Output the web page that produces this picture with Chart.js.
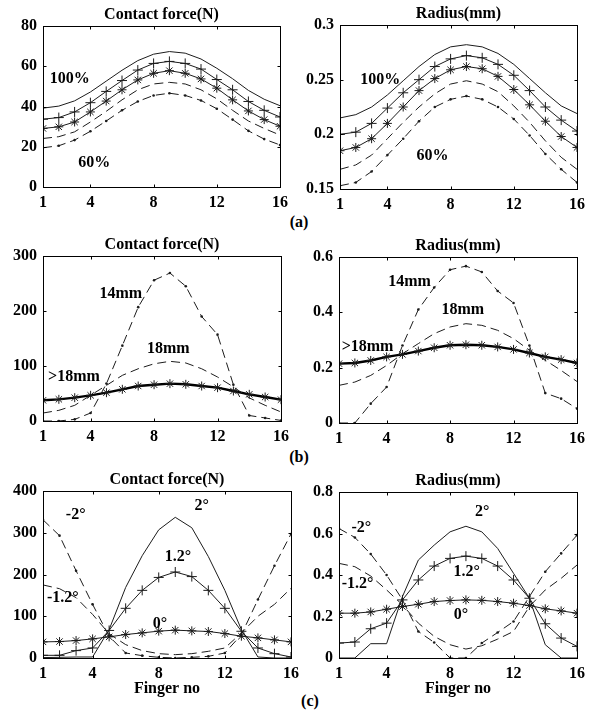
<!DOCTYPE html>
<html>
<head>
<meta charset="utf-8">
<script src="https://cdn.jsdelivr.net/npm/chart.js@4.4.1/dist/chart.umd.min.js"></script>
<style>
  body { margin: 0; background: #fff; }
  #fig { position: relative; width: 591px; height: 712px; overflow: hidden;
         font-family: "Liberation Serif", "Times New Roman", serif; font-weight: bold; }
  #fig canvas { position: absolute; }
  .tag { position: absolute; font-size: 16px; transform: translate(-50%, -50%); }
</style>
</head>
<body>
<div id="fig">
  <div class="tag" style="left:299px;top:222px">(a)</div>
  <div class="tag" style="left:299px;top:457px">(b)</div>
  <div class="tag" style="left:310px;top:701px">(c)</div>
</div>
<script>
const FINGERS = [1, 2, 3, 4, 5, 6, 7, 8, 9, 10, 11, 12, 13, 14, 15, 16];
const X_TICKS = [1, 4, 8, 12, 16];

// (a) five load levels, 100% down to 60%
const A_FORCE_100 = [39.2, 40.2, 42.8, 47.2, 52.6, 58, 62.8, 66, 67.3, 66.5, 63.6, 59, 53.8, 48, 43.6, 40.4];
const A_FORCE_90 = [33.7, 34.5, 37.3, 41.9, 47.5, 52.9, 58.1, 61.4, 62.4, 61.4, 58.6, 53.4, 48.3, 42.5, 38.1, 34.8];
const A_FORCE_80 = [29.1, 29.9, 32.3, 37.3, 42.7, 48.3, 53.2, 56.5, 57.8, 56.5, 53.7, 49.1, 43.3, 37.8, 33.5, 30.2];
const A_FORCE_70 = [24.1, 25, 27.4, 32.3, 37.6, 43.3, 48.3, 51.2, 52, 51.2, 48.3, 43.8, 38.1, 32.8, 29.1, 25.8];
const A_FORCE_60 = [19.5, 20.5, 23.3, 27.7, 32.8, 38.1, 42.5, 45.5, 46.6, 45.5, 43, 38.9, 33.5, 27.9, 23.8, 20.9];
const A_RAD_100 = [0.215, 0.218, 0.225, 0.236, 0.249, 0.262, 0.273, 0.280, 0.282, 0.280, 0.274, 0.264, 0.251, 0.238, 0.226, 0.219];
const A_RAD_90 = [0.200, 0.202, 0.210, 0.224, 0.238, 0.250, 0.262, 0.269, 0.272, 0.270, 0.264, 0.254, 0.240, 0.225, 0.213, 0.203];
const A_RAD_80 = [0.185, 0.188, 0.196, 0.210, 0.225, 0.240, 0.251, 0.259, 0.262, 0.260, 0.253, 0.241, 0.227, 0.212, 0.198, 0.188];
const A_RAD_70 = [0.168, 0.172, 0.181, 0.196, 0.211, 0.225, 0.237, 0.246, 0.249, 0.246, 0.239, 0.226, 0.211, 0.194, 0.179, 0.168];
const A_RAD_60 = [0.153, 0.156, 0.166, 0.181, 0.196, 0.212, 0.225, 0.232, 0.235, 0.232, 0.225, 0.214, 0.199, 0.182, 0.168, 0.156];

// (b) roll diameter 14mm, 18mm, >18mm
const B_FORCE_14 = [0, 0, 3, 14.5, 68, 137, 207, 256, 269, 245, 190, 157, 66, 10, 5.5, 1];
const B_FORCE_18 = [14.5, 19.4, 28.5, 46.7, 64.8, 83, 95, 104, 108.5, 105.5, 95, 80, 62, 42, 28.5, 16.4];
const B_FORCE_OVER = [37.6, 39.4, 42.4, 46.7, 51.5, 57.6, 63.6, 66, 67.9, 66.7, 63.6, 60.6, 54.5, 48.5, 43.6, 38.8];
const B_RAD_14 = [0, 0, 0.07, 0.13, 0.28, 0.41, 0.49, 0.554, 0.567, 0.546, 0.477, 0.434, 0.28, 0.108, 0.088, 0.052];
const B_RAD_18 = [0.136, 0.148, 0.172, 0.208, 0.25, 0.287, 0.323, 0.347, 0.359, 0.353, 0.335, 0.305, 0.263, 0.227, 0.19, 0.15];
const B_RAD_OVER = [0.2145, 0.217, 0.226, 0.239, 0.248, 0.26, 0.272, 0.281, 0.283, 0.281, 0.275, 0.266, 0.253, 0.239, 0.229, 0.217];

// (c) tilt angle 2, 1.2, 0, -2, -1.2 degrees
const C_FORCE_P2 = [1, 1.6, 2.4, 2.4, 68, 169, 245, 307, 337, 312, 243, 162, 68, 2.4, 0, 0];
const C_FORCE_P12 = [6.4, 6.4, 17.7, 24, 66, 119, 162, 193, 206, 195, 162, 119, 64, 24, 10.4, 2.4];
const C_FORCE_0 = [38.6, 39.4, 41.8, 45.8, 50.6, 56.2, 60.2, 64.3, 66.7, 65, 63.5, 58.6, 52.2, 48.2, 43.4, 38.6];
const C_FORCE_M2 = [331, 293, 209, 128.5, 52, 12, 5.6, 1.6, 0, 1.6, 4, 12, 56, 140, 221, 297];
const C_FORCE_M12 = [175, 166, 144.6, 104.4, 58, 32, 17.7, 10.4, 8, 10.4, 16, 24, 60, 100, 128.5, 167];
const C_RAD_P2 = [0, 0, 0.069, 0.069, 0.296, 0.472, 0.544, 0.608, 0.635, 0.608, 0.528, 0.408, 0.288, 0.064, 0, 0];
const C_RAD_P12 = [0.072, 0.077, 0.141, 0.168, 0.28, 0.376, 0.443, 0.48, 0.491, 0.48, 0.443, 0.376, 0.288, 0.165, 0.096, 0.056];
const C_RAD_0 = [0.216, 0.216, 0.222, 0.235, 0.248, 0.259, 0.272, 0.277, 0.28, 0.278, 0.272, 0.264, 0.253, 0.237, 0.227, 0.216];
const C_RAD_M2 = [0.624, 0.581, 0.501, 0.4, 0.28, 0.128, 0.075, 0, 0, 0.072, 0.123, 0.176, 0.296, 0.416, 0.504, 0.592];
const C_RAD_M12 = [0.456, 0.44, 0.395, 0.328, 0.256, 0.168, 0.104, 0.064, 0.043, 0.059, 0.091, 0.128, 0.248, 0.328, 0.384, 0.448];

const FORCE_TICKS_A = [0, 20, 40, 60, 80];
const RAD_TICKS_A = [0.15, 0.2, 0.25, 0.3];
const FORCE_TICKS_B = [0, 100, 200, 300];
const RAD_TICKS_B = [0, 0.2, 0.4, 0.6];
const FORCE_TICKS_C = [0, 100, 200, 300, 400];
const RAD_TICKS_C = [0, 0.2, 0.4, 0.6, 0.8];

const INK = '#1c1c1c';
const FAMILY = '"Liberation Serif", "Times New Roman", serif';
const FONT = { family: FAMILY, size: 16, weight: 'bold' };
const Y_W = 43, PAD_T = 24;

function series(values, style) {
  const ds = {
    data: values.map((v, i) => ({ x: FINGERS[i], y: v })),
    borderColor: INK, borderWidth: 1, tension: 0, fill: false,
    pointRadius: 0, pointBorderColor: INK, pointBackgroundColor: INK, pointBorderWidth: 1
  };
  if (style === 'plus') Object.assign(ds, { pointStyle: 'cross', pointRadius: 5 });
  if (style === 'star') Object.assign(ds, { pointStyle: 'star', pointRadius: 4.5 });
  if (style === 'boldstar') Object.assign(ds, { pointStyle: 'star', pointRadius: 4.5, borderWidth: 2.4, borderColor: '#000' });
  if (style === 'dash') ds.borderDash = [9, 5];
  if (style === 'dashdot') Object.assign(ds, { borderDash: [9, 5], pointRadius: 1.3, pointBorderWidth: 0 });
  return ds;
}

// box, inner ticks, title, in-plot labels and x label, MATLAB style
const figurePlugin = {
  id: 'figure',
  afterDatasetsDraw(chart, args, opts) {
    const { ctx, chartArea: a, scales: { x, y } } = chart;
    const L = Math.round(a.left) + 0.5, R = Math.round(a.right) + 0.5;
    const T = Math.round(a.top) + 0.5, B = Math.round(a.bottom) + 0.5;
    ctx.save();
    ctx.strokeStyle = '#000';
    ctx.lineWidth = 1;
    ctx.strokeRect(L, T, R - L, B - T);
    ctx.beginPath();
    x.ticks.forEach(t => {
      const px = Math.round(x.getPixelForValue(t.value)) + 0.5;
      ctx.moveTo(px, B); ctx.lineTo(px, B - 3);
      ctx.moveTo(px, T); ctx.lineTo(px, T + 3);
    });
    y.ticks.forEach(t => {
      const py = Math.round(y.getPixelForValue(t.value)) + 0.5;
      ctx.moveTo(L, py); ctx.lineTo(L + 3, py);
      ctx.moveTo(R, py); ctx.lineTo(R - 3, py);
    });
    ctx.stroke();

    ctx.fillStyle = '#000';
    ctx.font = `bold ${FONT.size}px ${FAMILY}`;
    ctx.textAlign = 'center';
    ctx.textBaseline = 'middle';
    ctx.fillText(opts.title, (a.left + a.right) / 2, a.top - 11);
    (opts.notes || []).forEach(n => {
      ctx.fillText(n.text, x.getPixelForValue(n.x), y.getPixelForValue(n.y));
    });
    if (opts.xTitle) ctx.fillText(opts.xTitle, (a.left + a.right) / 2, a.bottom + 31);
    ctx.restore();
  }
};

function panel(id, area, yRange, yTicks, datasets, extra) {
  const fig = document.getElementById('fig');
  const canvas = document.createElement('canvas');
  canvas.id = id;
  const xH = extra.xH;
  const w = Y_W + area.w + area.padR;
  const h = PAD_T + area.h + xH;
  canvas.width = w;
  canvas.height = h;
  canvas.style.left = (area.left - Y_W) + 'px';
  canvas.style.top = (area.top - PAD_T) + 'px';
  canvas.style.width = w + 'px';
  canvas.style.height = h + 'px';
  fig.appendChild(canvas);

  return new Chart(canvas.getContext('2d'), {
    type: 'line',
    data: { datasets },
    options: {
      responsive: false,
      animation: false,
      layout: { padding: { top: PAD_T, right: area.padR, left: 0, bottom: 0 } },
      scales: {
        x: {
          type: 'linear', min: 1, max: 16,
          afterBuildTicks: s => { s.ticks = X_TICKS.map(v => ({ value: v })); },
          afterFit: s => { s.height = xH; },
          grid: { display: false, drawTicks: false },
          border: { display: false },
          ticks: { autoSkip: false, maxRotation: 0, padding: 6, color: '#000', font: FONT, callback: v => String(v) }
        },
        y: {
          min: yRange[0], max: yRange[1],
          afterBuildTicks: s => { s.ticks = yTicks.map(v => ({ value: v })); },
          afterFit: s => { s.width = Y_W; },
          grid: { display: false, drawTicks: false },
          border: { display: false },
          ticks: { padding: 6, color: '#000', font: FONT, callback: v => String(v) }
        }
      },
      plugins: {
        legend: { display: false },
        tooltip: { enabled: false },
        figure: { title: extra.title, notes: extra.notes, xTitle: extra.xTitle }
      }
    },
    plugins: [figurePlugin]
  });
}

// (a)
panel('aForce', { left: 43, top: 26, w: 239, h: 161, padR: 12 }, [0, 80], FORCE_TICKS_A, [
  series(A_FORCE_100, 'solid'),
  series(A_FORCE_90, 'plus'),
  series(A_FORCE_80, 'star'),
  series(A_FORCE_70, 'dash'),
  series(A_FORCE_60, 'dashdot')
], { xH: 28, title: 'Contact force(N)', notes: [
  { text: '100%', x: 2.7, y: 53.5 },
  { text: '60%', x: 4.25, y: 12 }
] });

panel('aRad', { left: 340, top: 25, w: 242, h: 164, padR: 9 }, [0.15, 0.3], RAD_TICKS_A, [
  series(A_RAD_100, 'solid'),
  series(A_RAD_90, 'plus'),
  series(A_RAD_80, 'star'),
  series(A_RAD_70, 'dash'),
  series(A_RAD_60, 'dashdot')
], { xH: 28, title: 'Radius(mm)', notes: [
  { text: '100%', x: 3.55, y: 0.2495 },
  { text: '60%', x: 6.85, y: 0.180 }
] });

// (b)
panel('bForce', { left: 43, top: 256, w: 240, h: 165, padR: 12 }, [0, 300], FORCE_TICKS_B, [
  series(B_FORCE_14, 'dashdot'),
  series(B_FORCE_18, 'dash'),
  series(B_FORCE_OVER, 'boldstar')
], { xH: 28, title: 'Contact force(N)', notes: [
  { text: '14mm', x: 5.9, y: 232 },
  { text: '18mm', x: 8.9, y: 131 },
  { text: '>18mm', x: 2.95, y: 80 }
] });

panel('bRad', { left: 339, top: 257, w: 243, h: 166, padR: 9 }, [0, 0.6], RAD_TICKS_B, [
  series(B_RAD_14, 'dashdot'),
  series(B_RAD_18, 'dash'),
  series(B_RAD_OVER, 'boldstar')
], { xH: 28, title: 'Radius(mm)', notes: [
  { text: '14mm', x: 5.45, y: 0.51 },
  { text: '18mm', x: 8.8, y: 0.408 },
  { text: '>18mm', x: 2.8, y: 0.275 }
] });

// (c)
panel('cForce', { left: 43, top: 491, w: 250, h: 167, padR: 12 }, [0, 400], FORCE_TICKS_C, [
  series(C_FORCE_P2, 'solid'),
  series(C_FORCE_P12, 'plus'),
  series(C_FORCE_0, 'star'),
  series(C_FORCE_M2, 'dashdot'),
  series(C_FORCE_M12, 'dash')
], { xH: 50, title: 'Contact force(N)', xTitle: 'Finger no', notes: [
  { text: '2°', x: 10.6, y: 364 },
  { text: '-2°', x: 2.98, y: 342 },
  { text: '1.2°', x: 9.16, y: 243 },
  { text: '-1.2°', x: 2.2, y: 145 },
  { text: '0°', x: 8.08, y: 82 }
] });

panel('cRad', { left: 339, top: 492, w: 244, h: 166, padR: 8 }, [0, 0.8], RAD_TICKS_C, [
  series(C_RAD_P2, 'solid'),
  series(C_RAD_P12, 'plus'),
  series(C_RAD_0, 'star'),
  series(C_RAD_M2, 'dashdot'),
  series(C_RAD_M12, 'dash')
], { xH: 50, title: 'Radius(mm)', xTitle: 'Finger no', notes: [
  { text: '2°', x: 10.03, y: 0.704 },
  { text: '-2°', x: 2.41, y: 0.627 },
  { text: '1.2°', x: 9.05, y: 0.414 },
  { text: '-1.2°', x: 2.17, y: 0.357 },
  { text: '0°', x: 8.68, y: 0.207 }
] });
</script>
</body>
</html>
